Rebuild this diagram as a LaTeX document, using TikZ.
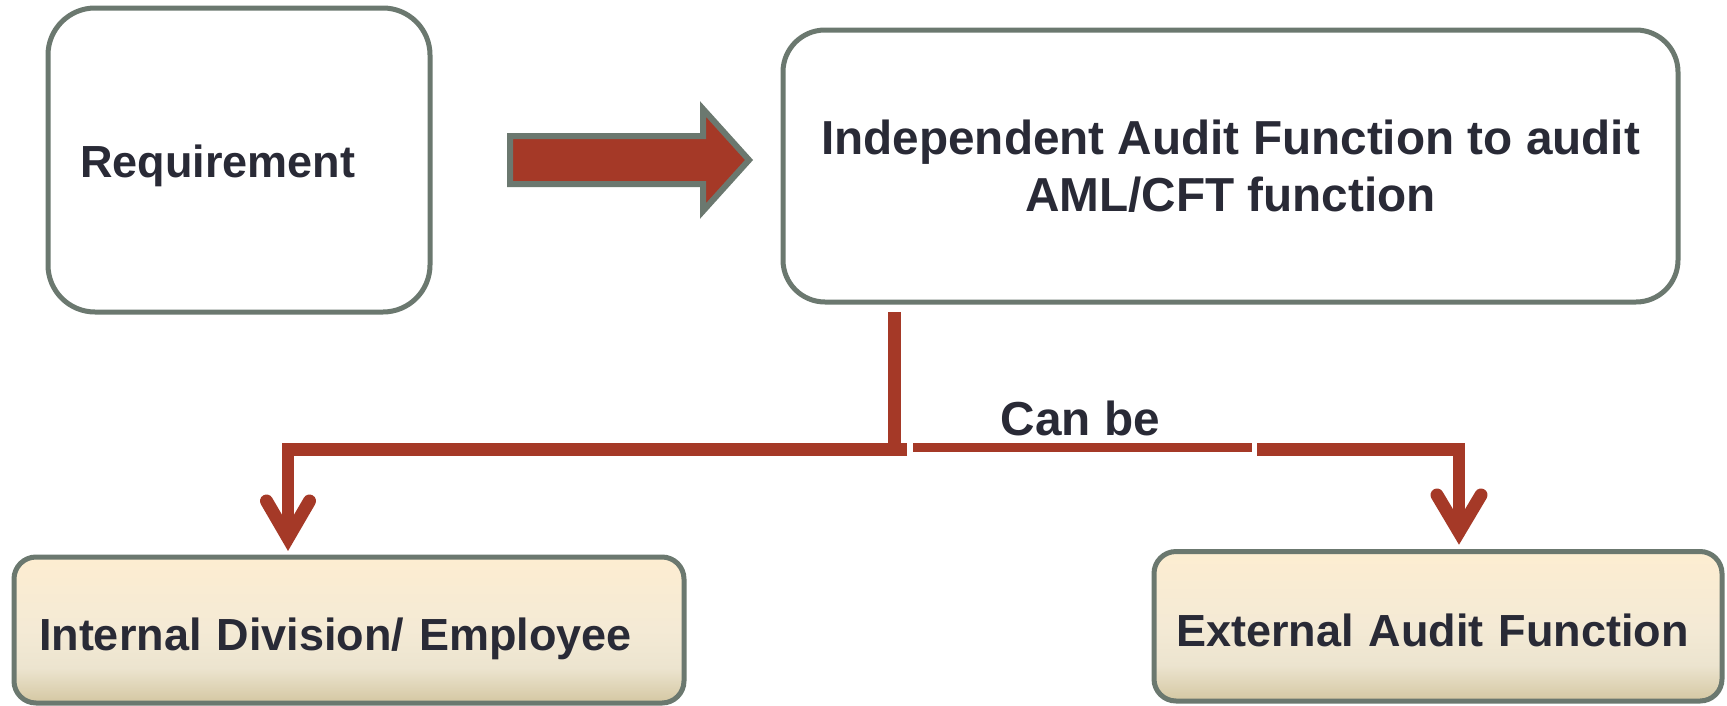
\documentclass[tikz,border=0pt]{standalone}
\usepackage{fontspec}
\setmainfont{Liberation Sans}
\usetikzlibrary{calc}
\definecolor{bordergray}{RGB}{107,120,111}
\definecolor{arrowred}{RGB}{165,57,39}
\definecolor{txt}{RGB}{41,42,54}
\definecolor{creamtop}{RGB}{253,237,209}
\definecolor{creammid}{RGB}{244,234,213}
\definecolor{creamlow}{RGB}{236,228,207}
\definecolor{creambot}{RGB}{212,199,162}
\pgfdeclareverticalshading{creamshade}{100bp}{color(0bp)=(creambot); color(25bp)=(creambot); color(37bp)=(creamlow); color(50bp)=(creammid); color(75bp)=(creamtop); color(100bp)=(creamtop)}
\begin{document}
\begin{tikzpicture}[x=1pt,y=-1pt,
  whitebox/.style={draw=bordergray, line width=5pt, fill=white, text=txt, inner ysep=0pt},
  creambox/.style={draw=bordergray, line width=5pt, shade, shading=creamshade, text=txt,
    rounded corners=22pt, inner ysep=0pt, align=left, text height=40pt, text depth=0pt,
    font=\bfseries\fontsize{45}{54}\selectfont},
  bigfont/.style={font=\bfseries\fontsize{47.7}{57}\selectfont},
  blockarrow/.style={fill=arrowred, draw=bordergray, line width=6pt, line join=miter},
  conn/.style={draw=arrowred, line width=12.5pt},
  vhead/.style={draw=arrowred, line width=13pt, line cap=round, line join=miter}
]
\useasboundingbox (0,0) rectangle (1727,705);
\fill[white] (0,0) rectangle (1727,705);

% boxes
\node[whitebox, rounded corners=47pt, minimum width=382pt, minimum height=304pt,
  text width=318pt, inner xsep=32pt, align=left, text height=34pt, text depth=0pt,
  font=\bfseries\fontsize{45}{54}\selectfont] (req) at (239,160) {Requirement};

\node[whitebox, rounded corners=42pt, minimum width=895pt, minimum height=272pt,
  align=center, bigfont] (indep) at (1230.5,166)
  {Independent Audit Function to audit\\AML/CFT function};

\node[creambox, minimum width=670pt, minimum height=146pt, text width=620pt,
  inner xsep=25pt] (internal) at (349,630) {Internal Division/ Employee};

\node[creambox, minimum width=568pt, minimum height=149.5pt, text width=524pt,
  inner xsep=22pt] (external) at (1438,626.25) {External Audit Function};

% block arrow between the top boxes
\draw[blockarrow] (510,136) -- (703,136) -- (703,109) -- (749,160) -- (703,211)
  -- (703,184) -- (510,184) -- cycle;

% label
\node[anchor=base west, inner sep=0pt, text=txt, bigfont] (canbe) at (1000.5,435) {Can be};

% connectors
\coordinate (stem) at (894,312);
\coordinate (hub) at (894,449.5);
\coordinate (hubR) at (907,449.5);
\coordinate (lturn) at (288,449.5);
\coordinate (ltip) at (288,538);
\coordinate (gapA) at (913,447.5);
\coordinate (gapB) at (1252,447.5);
\coordinate (rstart) at (1257,449.5);
\coordinate (rturn) at (1459,449.5);
\coordinate (rtip) at (1459,532);

\draw[conn, line width=13pt] (stem) -- (hub);
\draw[conn] (hubR) -- (lturn) -- (ltip);
\draw[conn, line width=9pt] (gapA) -- (gapB);
\draw[conn] (rstart) -- (rturn) -- (rtip);
\draw[vhead] ($(ltip)+(-21.5,-37)$) -- (ltip) -- ($(ltip)+(21.5,-37)$);
\draw[vhead] ($(rtip)+(-22,-37)$) -- (rtip) -- ($(rtip)+(22,-37)$);
\end{tikzpicture}
\end{document}
